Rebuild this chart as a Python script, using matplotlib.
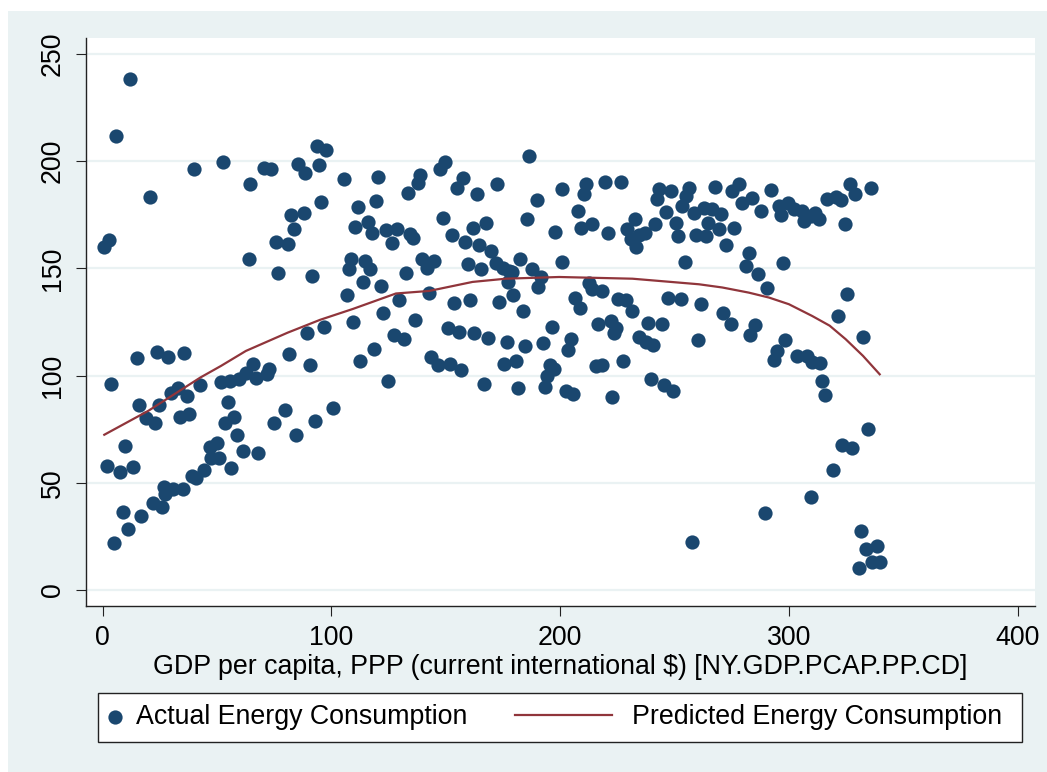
"""
Energy consumption vs GDP per capita: scatter of actual values with predicted curve.
"""

import matplotlib
matplotlib.use("Agg")
import matplotlib.pyplot as plt
import matplotlib.patches as mpatches

plt.rcParams["font.family"]=["Liberation Sans","DejaVu Sans"]

NAVY="#1A476F"
MAROON="#90353B"
BLUISH="#EAF2F3"

# actual energy consumption points (gdp, energy)
gdpLow=[3.6,14.8,23.6,28.7,35.7,15.7,24.8,18.9,22.9,29.8,32.8,36.7,33.8,37.8,42.7,51.7,55.8,59.7,62.6,65.8,
        67.0,72.0,72.8,54.6,53.6,57.5,58.6,61.4,67.7,56.3,81.5,89.5,96.8,90.5,74.7,79.8,84.7,92.7,9.7,1.7,
        7.6,13.4,8.7,16.7,10.9,4.8,21.8,25.9,26.9,30.6,34.9,27.4,38.9,40.8,44.1,47.0,49.9,50.7,47.3,
        11.8,5.8,20.7,0.7,2.6,39.7,52.7,64.6,70.6,73.5,85.5,88.6,93.6,97.5,94.6,95.6,82.5,87.8,83.7,75.7,
        80.8,63.8,76.7,91.7]
engLow=[96,108,110.8,108.7,110.4,86.3,86.3,80.1,77.7,91.8,94,90.5,80.9,82,95.5,96.8,97.5,98.6,101.4,105.3,
        99.1,100.7,103,87.9,77.7,80.8,72.2,64.9,63.7,56.9,110.3,119.8,122.9,104.8,77.7,84,72.2,78.9,67,57.9,
        54.8,57.2,36.5,34.6,28.4,21.9,40.5,38.8,48.1,47.1,47.1,44.7,53.3,52,56.1,66.5,68.5,61.5,61.4,
        238.6,211.7,183.5,160,163.1,196.2,199.7,189.3,197,196.2,198.8,194.5,207,205.2,198.2,181,175.1,176,168.2,162.2,
        161.2,154.4,147.7,146.6]

gdpMid=[105.7,120.5,111.6,119.5,133.6,137.7,138.7,147.5,149.7,154.7,157.6,163.6,172.6,186.5,189.7,185.7,197.8,110.5,115.9,117.6,
        123.9,128.5,126.5,134.4,135.8,148.6,152.7,158.5,161.7,167.5,164.6,169.7,171.9,174.8,177.7,178.9,177.4,182.5,187.6,191.6,
        190.5,179.6,183.6,173.4,160.7,153.7,142.8,159.5,165.6,139.6,141.6,145.0,132.6,108.6,107.6,114.7,116.9,113.7,121.7,106.7,
        129.7,122.4,109.6,136.7,150.8,155.6,162.4,168.6,176.6,184.6,192.6,196.4,127.5,131.9,118.8,112.7,143.5,146.4,151.8,156.6,
        124.6,166.5,175.5,180.6,181.7,195.5,194.4,193.4,100.6]
engMid=[191.5,192.8,178.8,181.4,185,189.7,193.5,196.6,199.6,187.6,192.3,184.5,189.2,202.4,181.9,173.2,167,169.4,171.6,166.4,
        167.8,168.2,161.7,165.9,164.3,173.6,165.6,162.5,169,171.3,160.8,158.1,152.7,150.4,148.8,148.3,143.7,154.6,149.9,146,
        141.1,137.5,130.1,134.5,135.3,133.7,138.3,151.9,149.9,154.2,150.4,153.5,148,154.2,149.9,153.5,149.6,143.7,141.8,137.5,
        135.1,129.4,125.2,126,122.4,120.4,119.8,117.4,115.9,113.8,115,122.9,119,117.3,112.3,106.6,108.7,104.8,105.6,102.5,
        97.5,96,105.6,106.6,94,104.8,99.9,94.7,84.7]

gdpHigh=[200.8,211.5,210.5,219.7,226.5,207.6,209.3,213.8,220.7,200.6,232.8,229.4,230.8,233.3,237.1,241.5,234.5,243.2,242.5,248.6,
         246.4,250.5,251.7,256.3,254.9,253.4,258.5,262.9,266.5,270.2,264.8,263.6,269.4,272.3,276.0,259.3,267.5,278.2,275.3,279.6,
         284.0,287.6,292.0,295.6,296.4,282.5,281.4,286.6,290.5,297.4,254.6,212.7,214.1,218.5,206.6,208.6,225.4,228.6,231.6,247.3,
         252.7,261.4,271.3,274.5,285.4,283.2,298.3,294.6,293.4,204.7,203.6,216.7,222.1,224.3,223.6,238.6,244.7,234.5,237.4,240.7,
         260.4,215.6,218.2,227.5,197.4,202.5,205.7,222.5,239.6,245.4,249.5,289.5,257.5,
         326.5,328.8,335.7,316.7,320.4,322.6,324.5,299.7,302.2,305.8,306.6,309.5,311.6,313.1,325.5,321.5,332.4,303.6,308.0,310.2,
         313.8,314.5,315.6,334.5,323.3,327.6,319.3,309.5,331.6,333.5,338.6,336.4,339.7,330.6]
engHigh=[187.1,189.2,184.5,190.2,190.4,176.8,169,170.8,166.7,153.2,173.2,168.2,163.6,160.2,166.7,170.8,165.4,187.2,182.2,186.1,
         176.5,171.3,165.2,187.6,183.7,179.1,176,178.3,177.5,175.2,171,165.1,168.2,160.8,169,165.4,188,189.2,186.1,180.3,
         183,176.7,186.5,179.1,174.7,157,151.1,147.3,140.7,152.4,153.2,143.1,140.3,139.5,136.4,131.7,135.9,135.3,130.2,136.4,
         135.9,133.3,129.4,124.3,123.5,118.8,116.5,111.5,107.3,117.3,112,124,125.5,122.4,119.8,124.4,124.2,117.8,115.9,114.2,
         116.5,104.5,105,106.6,103,92.9,91.3,89.8,98.6,95.5,92.9,35.9,22.2,
         189.2,184.5,187.6,182.5,183.4,181.9,170.5,180.7,177.5,176.7,172.1,174.4,176,173.2,137.9,127.8,118.2,109.2,109.2,106.4,
         106.1,97.5,90.9,75.3,67.7,66.2,55.9,43.2,27.6,19.1,20.6,12.9,13.2,10.1]

# predicted curve
predGdp=[0.7,20.0,42.7,51.7,62.6,80.8,95.0,109.4,128.2,142.8,161.7,176.2,199.6,231.6,260.7,270.9,282.5,291.3,
         300.0,310.2,317.8,324.8,332.4,339.7]
predEng=[72.4,83.6,99.1,104.5,111.5,120.0,126.0,131.1,138.3,139.5,143.7,145.2,146.0,145.2,142.6,141.1,138.7,136.4,
         133.3,127.8,123.3,117.0,109.2,100.6]

FS=19.3
W,H=1047,772
fig=plt.figure(figsize=(W/100,H/100),dpi=100,facecolor="white")
# stata-like outer region
fig.patches.append(mpatches.Rectangle((8/W,0),1-8/W,1-11/H,transform=fig.transFigure,
                                      facecolor=BLUISH,edgecolor="none",zorder=-5))
ax=fig.add_axes([86/W,1-606/H,(1035-86)/W,(606-38)/H])
ax.set_facecolor("white")

gdpAll=gdpLow+gdpMid+gdpHigh
engAll=engLow+engMid+engHigh
sc=ax.scatter(gdpAll,engAll,s=105,color=NAVY,linewidths=0,zorder=3)
ln,=ax.plot(predGdp,predEng,color=MAROON,linewidth=1.6,zorder=4)

ax.set_xlim(-7.3,407.6)
ax.set_ylim(-7.5,257.5)
ax.set_xticks([0,100,200,300,400])
ax.set_yticks([0,50,100,150,200,250])
ax.grid(True,axis="y",color=BLUISH,linewidth=1.6,zorder=1)
ax.set_axisbelow(True)
for s in ["top","right"]:
    ax.spines[s].set_visible(False)
for s in ["left","bottom"]:
    ax.spines[s].set_linewidth(1.0)
    ax.spines[s].set_color("#222222")
ax.tick_params(axis="both",length=7.5,width=0.8,color="#222222",labelsize=FS)
ax.tick_params(axis="x",pad=6)
ax.tick_params(axis="y",pad=7)
for lbl in ax.get_yticklabels():
    lbl.set_rotation(90)
    lbl.set_va("center")
ax.set_xlabel("GDP per capita, PPP (current international $) [NY.GDP.PCAP.PP.CD]",fontsize=FS,labelpad=2)

# legend frame + two entries
fig.patches.append(mpatches.Rectangle((98/W,1-742/H),924/W,49/H,transform=fig.transFigure,
                                      facecolor="white",edgecolor="#222222",linewidth=1.0,zorder=1))
yc=1-717.5/H
leg1=fig.legend(handles=[sc],labels=["Actual Energy Consumption"],loc="center left",
                bbox_to_anchor=(104/W,yc),frameon=False,fontsize=FS,handlelength=0.85,
                handletextpad=0.35,borderpad=0,borderaxespad=0,scatterpoints=1)
leg2=fig.legend(handles=[ln],labels=["Predicted Energy Consumption"],loc="center left",
                bbox_to_anchor=(515/W,yc),frameon=False,fontsize=FS,handlelength=3.6,
                handletextpad=0.75,borderpad=0,borderaxespad=0)

fig.savefig("out.png",dpi=100,facecolor=fig.get_facecolor())
